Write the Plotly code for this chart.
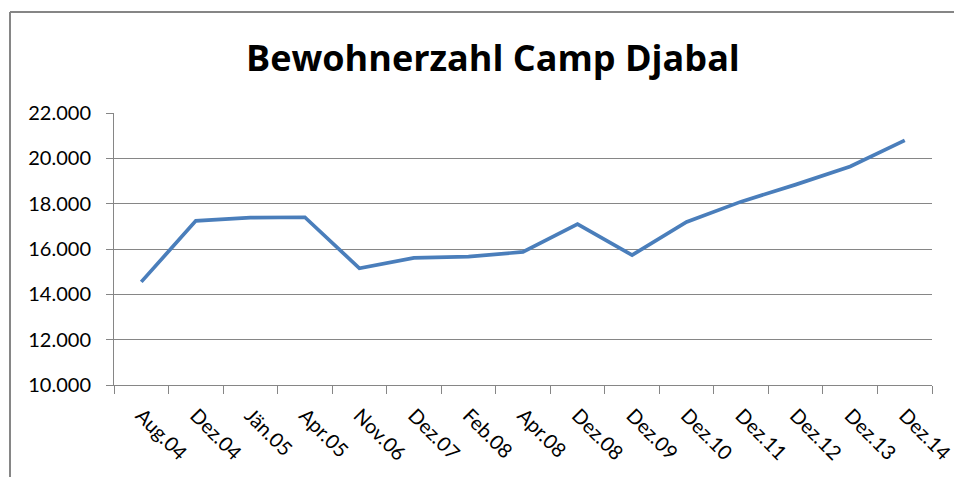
import plotly.graph_objects as go

categories = ["Aug.04", "Dez.04", "Jän.05", "Apr.05", "Nov.06", "Dez.07", "Feb.08",
              "Apr.08", "Dez.08", "Dez.09", "Dez.10", "Dez.11", "Dez.12", "Dez.13", "Dez.14"]
bewohner = [14550, 17240, 17380, 17400, 15150, 15610, 15660,
            15870, 17100, 15730, 17190, 18090, 18840, 19640, 20790]
y_ticks = [10000, 12000, 14000, 16000, 18000, 20000, 22000]
title_text = "Bewohnerzahl Camp Djabal"

# page has an 8px body margin; work in page pixels and convert
OFF = 8
W, H = 962 - OFF, 477 - OFF
PL, PR, PT, PB = 114, 932, 113, 385          # plot area in page pixels
L, T = PL - OFF, PT - OFF
R, B = W - (PR - OFF), H - (PB - OFF)
pw, ph = PR - PL, PB - PT

def px_x(px):
    return (px - PL) / pw

def px_y(py):
    return (PB - py) / ph

font_family = "Lato, 'Open Sans', sans-serif"
title_family = "'Open Sans', Lato, sans-serif"
grid_col = "#868686"

fig = go.Figure()
fig.add_trace(go.Scatter(
    x=categories, y=bewohner, mode="lines",
    line=dict(color="#4A7EBB", width=3.7),
    showlegend=False, hoverinfo="x+y",
))

fig.update_layout(
    width=W, height=H,
    margin=dict(l=L, r=R, t=T, b=B, pad=0, autoexpand=False),
    paper_bgcolor="white", plot_bgcolor="white",
    separators=",.",
    font=dict(family=font_family, color="#000000", size=20),
    xaxis=dict(
        type="category", range=[-0.5, len(categories) - 0.5], automargin=False,
        tickson="boundaries", ticks="outside", ticklen=8, tickcolor=grid_col, tickwidth=1,
        showline=True, linecolor=grid_col, linewidth=1,
        showgrid=False, tickangle=45, ticklabelstandoff=10,
        tickfont=dict(size=20, family=font_family, color="#000000"),
    ),
    yaxis=dict(
        range=[10000, 22000], tickvals=y_ticks, tickformat=",d", automargin=False,
        ticks="outside", ticklen=7, tickcolor=grid_col, tickwidth=1,
        showline=True, linecolor=grid_col, linewidth=1,
        showgrid=True, gridcolor=grid_col, gridwidth=1,
        zeroline=False, ticklabelstandoff=11,
        tickfont=dict(size=20, family=font_family, color="#000000"),
    ),
    annotations=[dict(
        text="<b>" + title_text + "</b>", xref="paper", yref="paper",
        x=px_x(493), y=px_y(57), xanchor="center", yanchor="middle",
        showarrow=False, font=dict(size=36, family=title_family, color="#000000"),
    )],
    shapes=[
        dict(type="line", xref="paper", yref="paper", x0=px_x(10), x1=px_x(10),
             y0=px_y(12), y1=px_y(490), line=dict(color="#868686", width=2)),
        dict(type="line", xref="paper", yref="paper", x0=px_x(10), x1=px_x(980),
             y0=px_y(12), y1=px_y(12), line=dict(color="#868686", width=2)),
    ],
)

fig.write_html("out.html")
